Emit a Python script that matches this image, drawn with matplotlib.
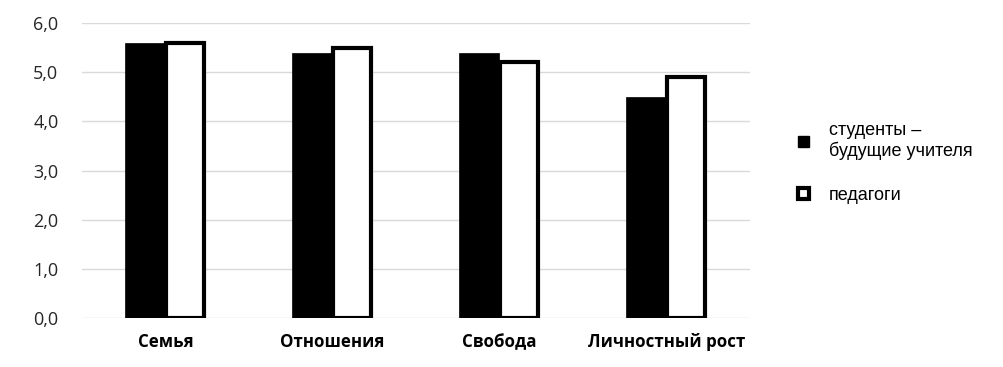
import matplotlib
matplotlib.use("Agg")
import matplotlib.pyplot as plt
import numpy as np
from matplotlib.patches import Patch

categories = ["Семья", "Отношения", "Свобода", "Личностный рост"]
students = [5.6, 5.4, 5.4, 4.5]
teachers = [5.6, 5.5, 5.2, 4.9]
yticks = [0, 1, 2, 3, 4, 5, 6]
series_labels = ["студенты –\nбудущие учителя", "педагоги"]

fig = plt.figure(figsize=(10.04, 3.67), dpi=100)
ax = fig.add_axes([82/1004, 1-318/367, (750-82)/1004, (318-23)/367])

x = np.arange(len(categories))
w = 0.245
ax.bar(x - w/2, students, width=w, color="black", edgecolor="black", linewidth=0.5, zorder=3)
ax.bar(x + w/2 - 0.005, teachers, width=w - 0.02, color="white", edgecolor="black", linewidth=3, zorder=3)

ax.set_xlim(-0.5, len(categories) - 0.5)
ax.set_ylim(0, 6)
ax.set_yticks(yticks)
ax.set_yticklabels([f"{v:.1f}".replace(".", ",") for v in yticks], fontsize=13, family="Open Sans", color="#262626")
ax.set_xticks(x)
ax.set_xticklabels(categories, fontsize=12.2, fontweight="bold", family="Open Sans")
ax.tick_params(axis="both", length=0)
ax.tick_params(axis="y", pad=17)
ax.tick_params(axis="x", pad=11)
for s in ax.spines.values():
    s.set_visible(False)
ax.yaxis.grid(True, color="#d9d9d9", linewidth=1, zorder=0)
ax.set_axisbelow(True)

handles = [Patch(facecolor="black", edgecolor="black", linewidth=1),
           Patch(facecolor="white", edgecolor="black", linewidth=3)]
fig.legend(handles, series_labels, loc="upper left", bbox_to_anchor=(782/1004, 1-106/367),
           frameon=False, handlelength=0.6, handleheight=0.6, handletextpad=1.1,
           labelspacing=1.45, prop={"family": "Liberation Sans", "size": 13})

fig.savefig("out.png", dpi=100)
